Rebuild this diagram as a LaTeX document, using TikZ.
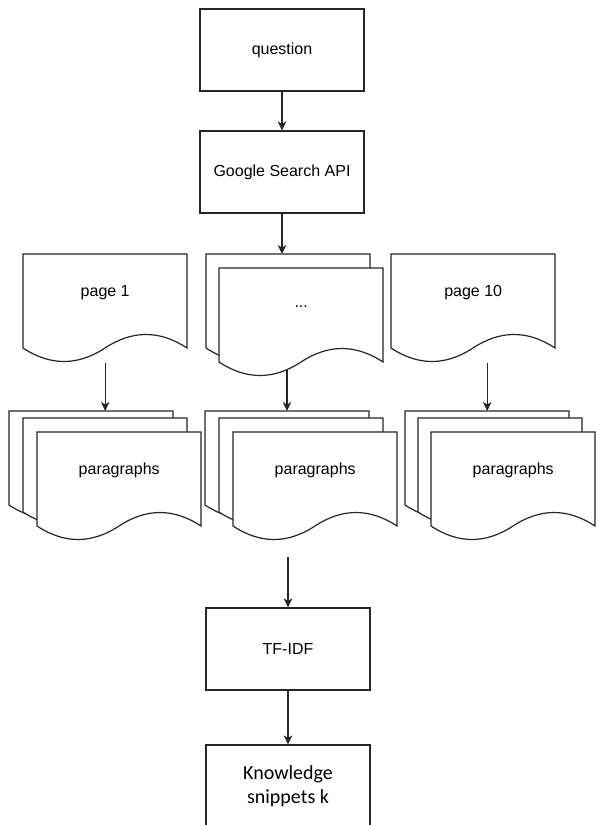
\documentclass[tikz,border=0pt]{standalone}
\usepackage{fontspec}
\setmainfont{Liberation Sans}
\newfontfamily\calibrifont{Carlito}
\usetikzlibrary{arrows.meta,calc}
\tikzset{
  ln/.style={line width=1.2pt, draw=black!85},
  procbox/.style={ln, draw, rectangle, minimum width=164pt, minimum height=82pt, inner sep=0pt, font=\fontsize{16}{19}\selectfont},
  docarea/.style={rectangle, anchor=north west, minimum width=164pt, minimum height=109pt, inner sep=0pt},
  docline/.style={ln, fill=white, line join=miter},
  doctext/.style={inner sep=0pt, font=\fontsize{16}{19}\selectfont},
  flow/.style={ln, -{Stealth[length=9pt,width=8.5pt,inset=2.5pt]}},
}
% name, x, y, text
\newcommand\docshape[4]{%
  \node[docarea] (#1) at (#2,#3) {};
  \draw[docline, shift={(#2,#3)}] (0,0) -- (164,0) -- (164,94)
     .. controls (136.67,76) and (109.33,76) .. (82,94)
     .. controls (54.67,112) and (27.33,112) .. (0,94) -- cycle;
  \node[doctext] (#1-t) at ([yshift=16.5pt]#1.center) {#4};
}
\begin{document}
\begin{tikzpicture}[x=1pt, y=-1pt]
  \useasboundingbox (0,0) rectangle (596,825);

  \node[procbox] (q) at (282,50) {question};
  \node[procbox] (g) at (282,172) {Google Search API};

  \docshape{p1}{23}{254}{page 1}
  \docshape{d1}{206}{254}{}
  \docshape{d2}{219}{268}{...}
  \docshape{p10}{391}{254}{page 10}

  \docshape{a1}{9}{411}{}
  \docshape{a2}{23}{418}{}
  \docshape{a3}{37}{432}{paragraphs}

  \docshape{b1}{205}{411}{}
  \docshape{b2}{219}{418}{}
  \docshape{b3}{233}{432}{paragraphs}

  \docshape{c1}{405}{411}{}
  \docshape{c2}{418}{418}{}
  \docshape{c3}{431}{432}{paragraphs}

  \node[procbox] (t) at (288,649) {TF-IDF};
  \node[procbox, align=center, font=\calibrifont\fontsize{20}{23.5}\selectfont] (k) at (288,786) {Knowledge\\snippets k};

  \draw[flow] (q) -- (g);
  \draw[flow] (g.south) -- (g.south |- d1.north);
  \draw[flow] (p1.south) -- (p1.south |- a1.north);
  \coordinate (dstart) at ($(d2.north west)+(68,101)$);
  \draw[flow] (dstart) -- (dstart |- b1.north);
  \draw[flow] (c1.north |- p10.south) -- (c1.north);
  \coordinate (bstart) at ($(b3.south -| t.north)+(0,16)$);
  \draw[flow] (bstart) -- (t);
  \draw[flow] (t) -- (k);
\end{tikzpicture}
\end{document}
